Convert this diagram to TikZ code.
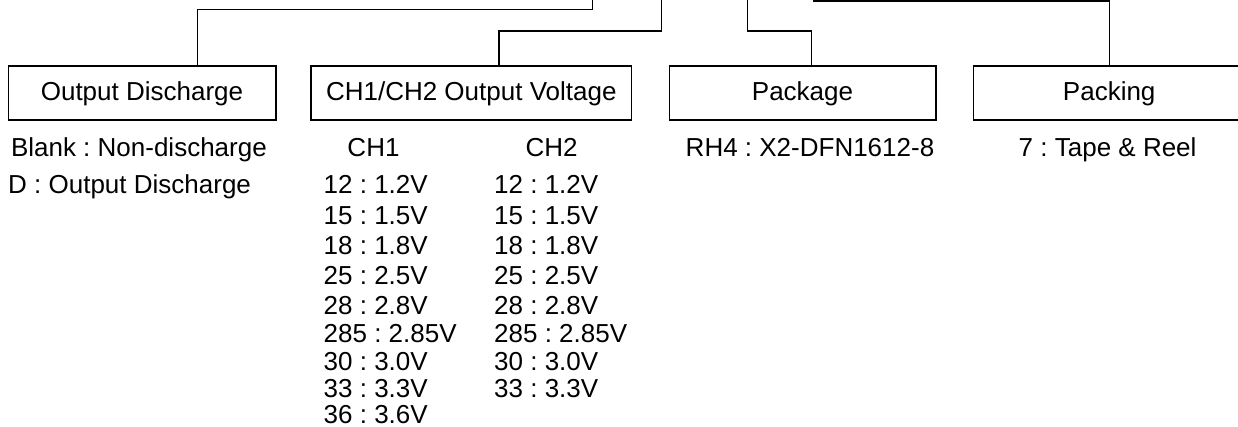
\documentclass[tikz,border=0pt]{standalone}
\usepackage{fontspec}
\setmainfont{Liberation Sans}
\usepackage{tikz}
\usetikzlibrary{positioning,calc}
\frenchspacing

\begin{document}
\begin{tikzpicture}[
    x=1pt, y=-1pt,
    field/.style={draw, line width=1.6pt, minimum height=54pt, inner sep=0pt,
                  minimum width=#1, font=\fontsize{26}{30}\selectfont},
    txt/.style={inner sep=0pt, font=\fontsize{26}{30}\selectfont},
    lead/.style={line width=1.2pt}
  ]
    \useasboundingbox (0,0) rectangle (1238,427);

    % Fields
    \node[field=267.4pt]  (disch) at (142,93.3)    {Output Discharge};
    \node[field=320.7pt]  (volt)  at (471.3,93.3)  {CH1/CH2 Output Voltage};
    \node[field=266.4pt]  (pkg)   at (802.5,93.3)  {Package};
    \node[field=271.7pt]  (pack)  at (1109.2,93.3) {Packing};

    % Leads to the part number (top, cut off)
    \coordinate (t1) at (592.7,0);
    \coordinate (t2) at (661.7,0);
    \coordinate (t3) at (747.3,0);
    \coordinate (t4) at (813.3,0);

    \draw[lead] ([xshift=55.7pt]disch.north) |- ([yshift=-9.3pt]t1) -- (t1);
    \draw[lead] ([xshift=27.7pt]volt.north)  |- ([yshift=-31pt]t2) -- (t2);
    \draw[lead] ([xshift=9.2pt]pkg.north)    |- ([yshift=-31pt]t3) -- (t3);
    \draw[lead] ([xshift=0.5pt]pack.north)   |- ([yshift=-1pt]t4) -- (t4);

    % Output discharge options
    \node[txt, anchor=base west] (blank) at (10.8,157) {Blank : Non-discharge};
    \node[txt, anchor=base west] (dopt)  at (8,194)    {D : Output Discharge};

    % Voltage codes
    \node[txt, anchor=base] (ch1) at (373.5,157) {CH1};
    \node[txt, anchor=base] (ch2) at (551.5,157) {CH2};
    \foreach \code/\vout/\yy [count=\i] in {12/1.2/194, 15/1.5/225, 18/1.8/255,
        25/2.5/284, 28/2.8/314, 285/2.85/342, 30/3.0/370, 33/3.3/397}
    {
      \node[txt, anchor=base west] (a\i) at (323.5,\yy) {\code\ : \vout V};
      \node[txt, anchor=base west] (b\i) at (494,\yy)   {\code\ : \vout V};
    }
    \node[txt, anchor=base west] (a9) at (323.5,423) {36 : 3.6V};

    % Package and packing
    \node[txt, anchor=base] (rh4)  at (810,157)    {RH4 : X2-DFN1612-8};
    \node[txt, anchor=base] (reel) at (1107.6,157) {7 : Tape \& Reel};
\end{tikzpicture}
\end{document}
